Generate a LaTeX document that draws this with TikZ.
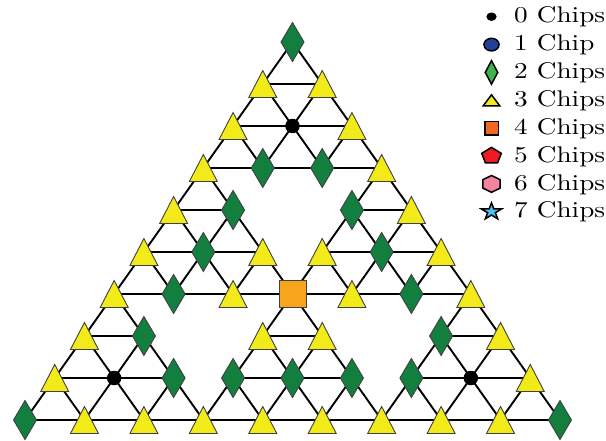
\documentclass[tikz,border=0pt]{standalone}
\usepackage{graphicx}
\usetikzlibrary{shapes.geometric,backgrounds}
\definecolor{dgreen}{HTML}{127F3F}
\definecolor{ylw}{HTML}{F3EA1A}
\definecolor{orng}{HTML}{F7A51C}
\definecolor{lgreen}{HTML}{3DB54A}
\definecolor{lorng}{HTML}{F26522}
\definecolor{blu}{HTML}{21409A}
\definecolor{rd}{HTML}{ED1C24}
\definecolor{pnk}{HTML}{F284A0}
\definecolor{cyn}{HTML}{4DC4F0}
\newcommand{\legtext}[1]{\scalebox{2.27}{#1}}
\begin{document}
\begin{tikzpicture}[x=1pt,y=-1pt,
  edge/.style={line width=1.9pt, line cap=round, black},
  mk/.style={inner sep=0pt, outer sep=0pt, draw=black!75, line width=0.9pt},
  m0/.style={circle, fill=black, inner sep=0pt, outer sep=0pt, minimum size=14.5pt},
  m2/.style={mk, diamond, fill=dgreen, minimum width=23pt, minimum height=39pt},
  m3/.style={rectangle, inner sep=0pt, outer sep=0pt, minimum width=28pt, minimum height=27pt,
    append after command={\pgfextra{\filldraw[fill=ylw, draw=black!75, line width=0.9pt, line join=miter]
      (\tikzlastnode.north) -- (\tikzlastnode.south east) -- (\tikzlastnode.south west) -- cycle;}}},
  m4/.style={mk, rectangle, fill=orng, minimum size=27pt},
  lg/.style={inner sep=0pt, outer sep=0pt, draw=black, line width=1.5pt},
  ltri/.style={rectangle, inner sep=0pt, outer sep=0pt, minimum width=13.75pt, minimum height=11pt,
    append after command={\pgfextra{\filldraw[fill=ylw, draw=black, line width=1.5pt, line join=miter]
      (\tikzlastnode.north) -- (\tikzlastnode.south east) -- (\tikzlastnode.south west) -- cycle;}}},
  ltxt/.style={anchor=base west, inner sep=0pt, font=\normalsize},
]
\useasboundingbox (0,0) rectangle (606,441);
% lattice positions
\foreach \r in {0,...,9}{
  \foreach \k in {0,...,\r}{
    \coordinate (v\r-\k) at ({292.5+(2*\k-\r)*29.72},{42+42*\r});
  }
}
% markers (9 = no vertex)
\foreach \r/\lst in {0/{2},1/{3,3},2/{3,0,3},3/{3,2,2,3},4/{3,2,9,2,3},5/{3,2,3,3,2,3},
  6/{3,2,3,4,3,2,3},7/{3,2,9,3,3,9,2,3},8/{3,0,2,2,2,2,2,0,3},9/{2,3,3,3,3,3,3,3,3,2}}{
  \foreach \c [count=\kk from 0] in \lst {
    \ifnum\c<9 \node[m\c] (n\r-\kk) at (v\r-\kk) {}; \fi
  }
}
% connectors
\begin{pgfonlayer}{background}
\foreach \R/\K in {0/0,3/0,3/3,6/0,6/3,6/6}{
  \foreach \i in {0,...,3}{
    \foreach \j in {0,...,\i}{
      \pgfmathtruncatemacro\ra{\R+\i}
      \pgfmathtruncatemacro\ka{\K+\j}
      \pgfmathtruncatemacro\rb{\ra+1}
      \pgfmathtruncatemacro\kb{\ka+1}
      \ifnum\j<\i \draw[edge] (n\ra-\ka.center) -- (n\ra-\kb.center); \fi
      \ifnum\i<3
        \draw[edge] (n\ra-\ka.center) -- (n\rb-\ka.center);
        \draw[edge] (n\ra-\ka.center) -- (n\rb-\kb.center);
      \fi
    }
  }
}
\end{pgfonlayer}
% legend
\begin{scope}[shift={(491.5,0)}, xscale=1.2, every node/.append style={transform shape}]
  \node[circle, fill=black, inner sep=0pt, minimum size=8.5pt] (l0) at (0,16.7) {};
  \node[lg, circle, fill=blu, minimum size=12.6pt] (l1) at (0,44.6) {};
  \node[lg, diamond, fill=lgreen, minimum width=10.4pt, minimum height=23.5pt] (l2) at (0,72.4) {};
  \node[ltri] (l3) at (0,100.3) {};
  \node[lg, rectangle, fill=lorng, minimum width=11.25pt, minimum height=13.5pt] (l4) at (0,128.1) {};
  \node[lg, regular polygon, regular polygon sides=5, fill=rd, minimum size=17.2pt] (l5) at (0,156) {};
  \node[lg, regular polygon, regular polygon sides=6, shape border rotate=30, fill=pnk, minimum size=16.8pt] (l6) at (0,183.9) {};
  \node[lg, star, star points=5, star point ratio=2.618, fill=cyn, minimum size=17.6pt] (l7) at (0,211.7) {};
  \node[ltxt] (t0) at (18.75,22.9) {\legtext{0 Chips}};
  \node[ltxt] (t1) at (18.75,50.8) {\legtext{1 Chip}};
  \node[ltxt] (t2) at (18.75,78.6) {\legtext{2 Chips}};
  \node[ltxt] (t3) at (18.75,106.5) {\legtext{3 Chips}};
  \node[ltxt] (t4) at (18.75,134.3) {\legtext{4 Chips}};
  \node[ltxt] (t5) at (18.75,162.2) {\legtext{5 Chips}};
  \node[ltxt] (t6) at (18.75,190.1) {\legtext{6 Chips}};
  \node[ltxt] (t7) at (18.75,217.9) {\legtext{7 Chips}};
\end{scope}
\end{tikzpicture}
\end{document}
